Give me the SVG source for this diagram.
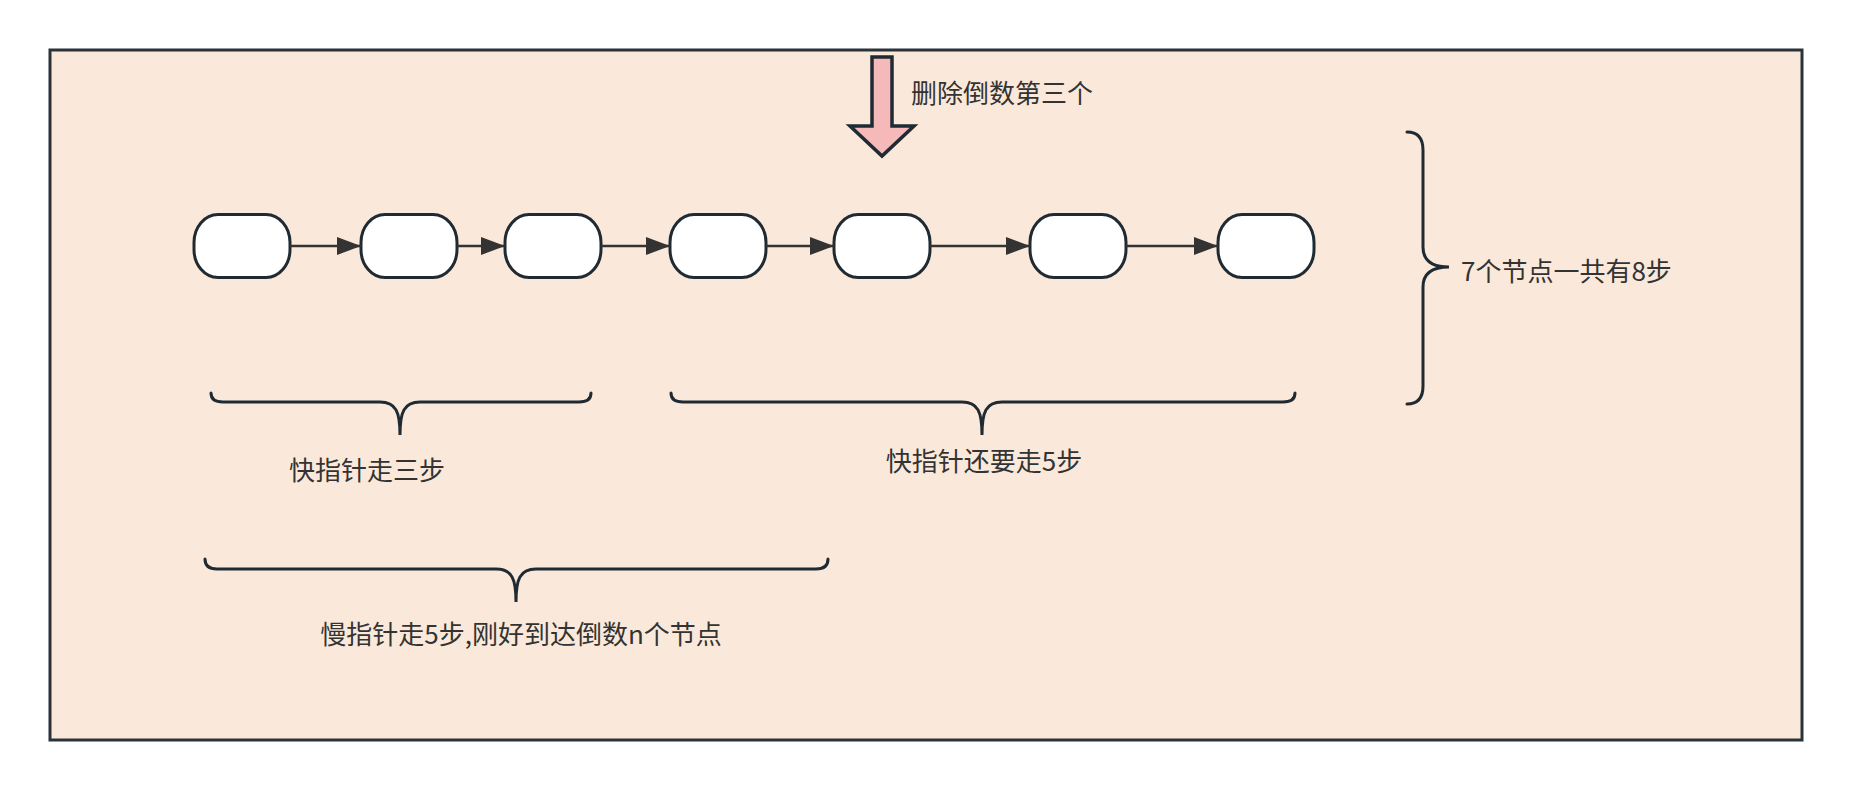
<svg xmlns="http://www.w3.org/2000/svg" width="1852" height="790" viewBox="0 0 1852 790">
<defs>
<style>
.frame{fill:#fae9da;stroke:#2a333a;stroke-width:3}
.node{fill:#ffffff;stroke:#1f2a33;stroke-width:3}
.edge{fill:none;stroke:#333333;stroke-width:2.5}
.brace{fill:none;stroke:#1f2a33;stroke-width:3;stroke-linecap:round}
.lbl{font-family:"Noto Sans CJK SC","Noto Sans",sans-serif;font-size:26px;fill:#333333}
</style>
<marker id="ah" markerUnits="userSpaceOnUse" markerWidth="24" markerHeight="18" refX="24" refY="9" orient="auto">
<path d="M0,0 L24,9 L0,18 z" fill="#333333"/>
</marker>
</defs>
<rect class="frame" x="50" y="50" width="1752" height="690"/>
<g id="delete-arrow">
<polygon points="872,57 892,57 892,126 914,126 882,156 850,126 872,126" fill="#f4b9b8" stroke="#1f2a33" stroke-width="3.5" stroke-linejoin="miter"/>
<text class="lbl" x="911" y="103">删除倒数第三个</text>
</g>
<g id="node1"><rect class="node" x="194" y="214.5" width="96" height="63" rx="24" ry="28"/></g>
<g id="node2"><rect class="node" x="361" y="214.5" width="96" height="63" rx="24" ry="28"/></g>
<g id="node3"><rect class="node" x="505" y="214.5" width="96" height="63" rx="24" ry="28"/></g>
<g id="node4"><rect class="node" x="670" y="214.5" width="96" height="63" rx="24" ry="28"/></g>
<g id="node5"><rect class="node" x="834" y="214.5" width="96" height="63" rx="24" ry="28"/></g>
<g id="node6"><rect class="node" x="1030" y="214.5" width="96" height="63" rx="24" ry="28"/></g>
<g id="node7"><rect class="node" x="1218" y="214.5" width="96" height="63" rx="24" ry="28"/></g>
<g id="connectors">
<line class="edge" x1="290" y1="246" x2="361" y2="246" marker-end="url(#ah)"/>
<line class="edge" x1="457" y1="246" x2="505" y2="246" marker-end="url(#ah)"/>
<line class="edge" x1="601" y1="246" x2="670" y2="246" marker-end="url(#ah)"/>
<line class="edge" x1="766" y1="246" x2="834" y2="246" marker-end="url(#ah)"/>
<line class="edge" x1="930" y1="246" x2="1030" y2="246" marker-end="url(#ah)"/>
<line class="edge" x1="1126" y1="246" x2="1218" y2="246" marker-end="url(#ah)"/>
</g>
<g id="brace-fast3">
<path class="brace" d="M211,393 Q211,402 223,402 L380,402 C396,402 400,412 400,435 C400,412 404,402 420,402 L579,402 Q591,402 591,393"/>
<text class="lbl" x="367" y="480" text-anchor="middle">快指针走三步</text>
</g>
<g id="brace-fast5">
<path class="brace" d="M671,393 Q671,402 683,402 L962,402 C978,402 982,412 982,435 C982,412 986,402 1002,402 L1283,402 Q1295,402 1295,393"/>
<text class="lbl" x="984" y="471" text-anchor="middle">快指针还要走5步</text>
</g>
<g id="brace-slow">
<path class="brace" d="M205,559 Q205,569 217,569 L496,569 C512,569 516,579 516,602 C516,579 520,569 536,569 L816,569 Q828,569 828,559"/>
<text class="lbl" x="521" y="644" text-anchor="middle">慢指针走5步,刚好到达倒数n个节点</text>
</g>
<g id="brace-total">
<path class="brace" d="M1407,132 Q1423,132 1423,150 L1423,247 Q1423,267 1449,267 Q1423,267 1423,287 L1423,386 Q1423,404 1407,404"/>
<text class="lbl" x="1461" y="281">7个节点一共有8步</text>
</g>
</svg>
